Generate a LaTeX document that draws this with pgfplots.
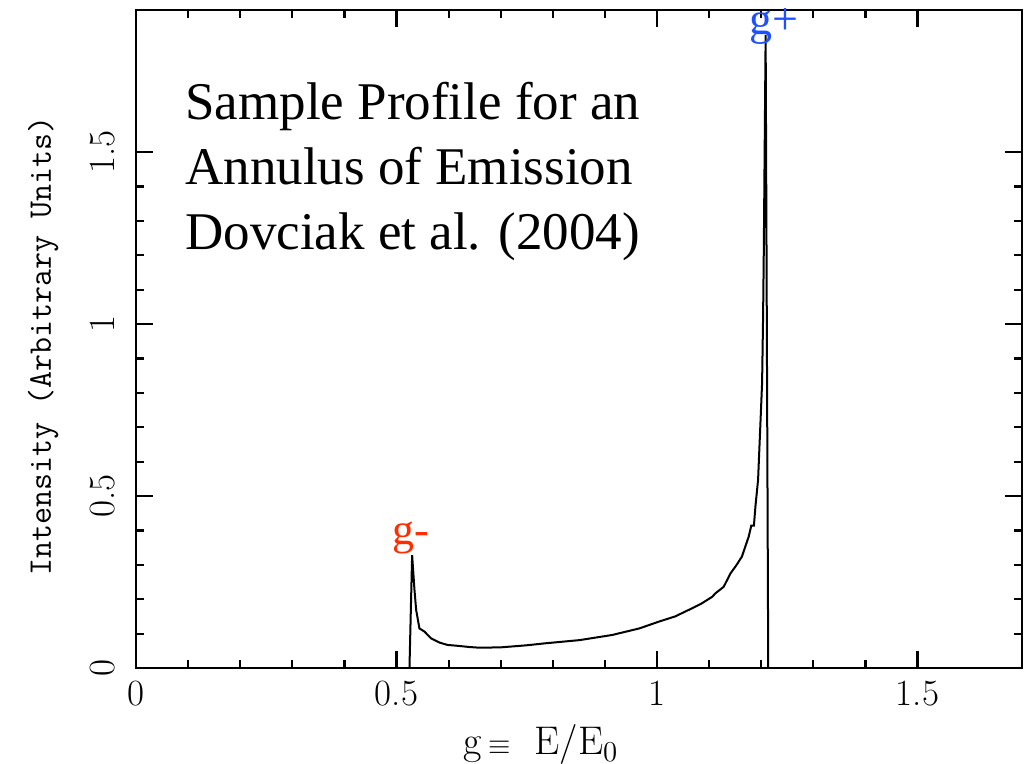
\documentclass[border=0pt]{standalone}
\usepackage{fontspec}
\usepackage{pgfplots}
\pgfplotsset{compat=1.18}
\newfontfamily\timesf{Liberation Serif}
\definecolor{gred}{RGB}{255,45,0}
\definecolor{gblue}{RGB}{30,80,255}
\begin{document}
\begin{tikzpicture}
\begin{axis}[
  scale only axis,
  width=442.85pt, height=329pt,
  xmin=0, xmax=1.7, ymin=0, ymax=1.913,
  axis line style={line width=1.2pt},
  tick style={line width=1.1pt, black},
  tick align=inside,
  xtick={0,0.5,1,1.5}, xticklabels={0,0.5,1,1.5},
  ytick={0,0.5,1,1.5}, yticklabels={0,0.5,1,1.5},
  minor x tick num=4, minor y tick num=4,
  major tick length=8.5pt, minor tick length=4pt,
  xtick pos=both, ytick pos=both,
  ticklabel style={font=\fontsize{18.5}{22}\selectfont},
  xticklabel style={yshift=-3pt},
  yticklabel style={rotate=90, anchor=south, yshift=7pt},
  xlabel={g\,{\fontsize{15}{18}\selectfont$\equiv$}\hspace{12pt}E/E$_{0}$},
  xlabel style={font=\fontsize{20}{24}\selectfont, at={(axis description cs:0.457,-0.132)}, anchor=base},
  ylabel={Intensity (Arbitrary Units)},
  ylabel style={font=\fontsize{16.5}{19}\selectfont\ttfamily, at={(axis description cs:-0.096,0.49)}, anchor=base, rotate=0},
  clip=false,
]
\addplot[black, line width=1pt] coordinates {
(0.5249,0) (0.5300,0.328) (0.5345,0.227) (0.5377,0.169) (0.5440,0.115)
(0.5536,0.106) (0.5664,0.086) (0.5824,0.074) (0.5980,0.067) (0.614,0.065)
(0.640,0.061) (0.659,0.059) (0.700,0.060) (0.750,0.066) (0.787,0.072)
(0.851,0.081) (0.914,0.096) (0.966,0.115) (1.004,0.135) (1.035,0.150)
(1.061,0.169) (1.085,0.187) (1.106,0.207) (1.112,0.217) (1.128,0.236)
(1.141,0.275) (1.152,0.298) (1.163,0.324) (1.176,0.382) (1.181,0.414)
(1.186,0.414) (1.189,0.471) (1.194,0.547) (1.2017,0.828) (1.2036,1.020)
(1.205,1.215) (1.2085,1.840) (1.2135,0)
};
\node[anchor=base west, inner sep=0, font=\timesf\fontsize{26.5}{30}\selectfont] at (axis cs:0.0939,1.596) {Sample Profile for an};
\node[anchor=base west, inner sep=0, font=\timesf\fontsize{26.5}{30}\selectfont] at (axis cs:0.0939,1.407) {Annulus of Emission};
\node[anchor=base west, inner sep=0, font=\timesf\fontsize{26.5}{30}\selectfont] at (axis cs:0.0939,1.218) {Dovciak et al. (2004)};
\node[anchor=base west, inner sep=0, text=gred, font=\timesf\fontsize{22}{25}\selectfont] at (axis cs:0.4923,0.3576) {g-};
\node[anchor=base west, inner sep=0, text=gblue, font=\timesf\fontsize{23}{25}\selectfont] at (axis cs:1.1762,1.843) {g+};
\coordinate (bl) at (rel axis cs:0,0);
\coordinate (tr) at (rel axis cs:1,1);
\end{axis}
\pgfresetboundingbox
\path ([shift={(-68pt,-48pt)}]bl) rectangle ([shift={(2.65pt,5pt)}]tr);
\end{tikzpicture}
\end{document}
